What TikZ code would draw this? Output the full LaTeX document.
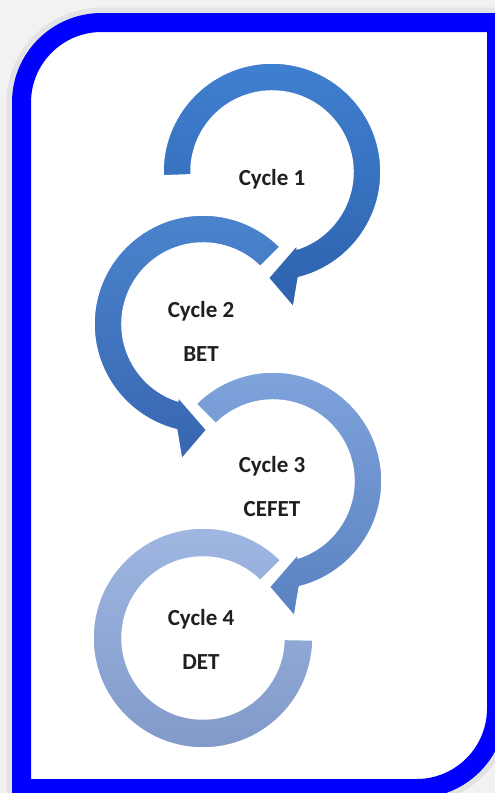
\documentclass[tikz,border=0pt]{standalone}
\usepackage{fontspec}
\setmainfont{Carlito}
\usetikzlibrary{positioning}
\definecolor{framecol}{rgb}{0,0,1}
\definecolor{ringAtop}{HTML}{4080D0}
\definecolor{ringAbot}{HTML}{2E62AD}
\definecolor{ringBtop}{HTML}{4C84CE}
\definecolor{ringBbot}{HTML}{3866B1}
\definecolor{ringCtop}{HTML}{80A4DC}
\definecolor{ringCbot}{HTML}{5A82C1}
\definecolor{ringDtop}{HTML}{A0B8E2}
\definecolor{ringDbot}{HTML}{7F98C8}

\begin{document}
\begin{tikzpicture}[
            x = 1pt, y = 1pt, % one unit is one pixel of the reference
            node distance = 43pt, % centre to centre of the two text lines
            ring/.style = {draw = white, line width = 1.5pt, line join = round},
            frame/.style = {draw = framecol, fill = white, line width = 19pt}
            ]

        \tikzstyle{every node}=[
            font = \bfseries\fontsize{23}{27}\selectfont,
            text = black!88,
            inner sep = 0pt
        ]

        \useasboundingbox (0,0) rectangle (495,-793);
        \clip (0,0) rectangle (495,-793);
        \fill[gray!10] (0,0) rectangle (495,-793);

	% frame, rounded on two corners only
        \path[frame, preaction = {draw = gray!22, line width = 30pt}]
            (21.5,-788.5) -- (21.5,-102.5)
            arc[start angle = 180, end angle = 90, radius = 80]
            -- (496.5,-22.5) -- (496.5,-708.5)
            arc[start angle = 0, end angle = -90, radius = 80]
            -- cycle;

	% ring centres
        \coordinate (R1) at (272,-172);
        \coordinate (R2) at (203,-324);
        \coordinate (R3) at (273,-481);
        \coordinate (R4) at (203,-638);

	% rings, the last one first so that each head lies on top
        \path[ring, top color = ringDtop, bottom color = ringDbot, shift = {(R4)}]
            (45:110) arc[start angle = 45, end angle = 359, radius = 110]
            -- (359:81) arc[start angle = 359, end angle = 45, radius = 81]
            -- cycle;

        \path[ring, top color = ringCtop, bottom color = ringCbot, shift = {(R3)}]
            (135:109) arc[start angle = 135, end angle = -76, radius = 109]
            -- (-81:137) -- (-92:106) -- (-71:77) -- (-72:81)
            arc[start angle = -72, end angle = 135, radius = 81]
            -- cycle;

        \path[ring, top color = ringBtop, bottom color = ringBbot, shift = {(R2)}]
            (45:109) arc[start angle = 45, end angle = 256, radius = 109]
            -- (261:137) -- (272:106) -- (251:77) -- (252:81)
            arc[start angle = 252, end angle = 45, radius = 81]
            -- cycle;

        \path[ring, top color = ringAtop, bottom color = ringAbot, shift = {(R1)}]
            (182:109) arc[start angle = 182, end angle = -76, radius = 109]
            -- (-81:137) -- (-92:106) -- (-71:77) -- (-72:81)
            arc[start angle = -72, end angle = 182, radius = 81]
            -- cycle;

	% labels
        \node (C1) at (272,-179) {Cycle 1};

        \node (C2) at (201,-311) {Cycle 2};
        \node (B2) [below of = C2] {BET};

        \node (C3) at (272,-466) {Cycle 3};
        \node (B3) [below of = C3] {CEFET};

        \node (C4) at (201,-619) {Cycle 4};
        \node (B4) [below of = C4] {DET};

  \end{tikzpicture}
\end{document}
